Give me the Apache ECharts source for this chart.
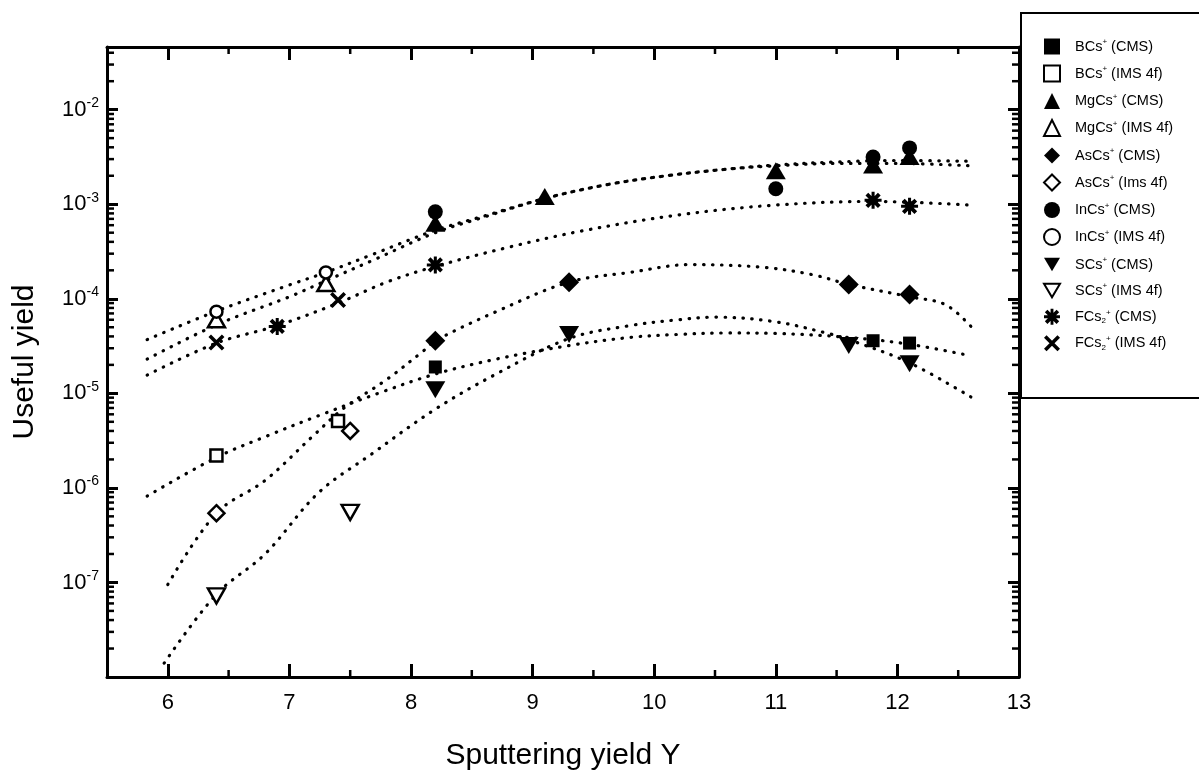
<!DOCTYPE html>
<html>
<head>
<meta charset="utf-8">
<script src="https://cdn.jsdelivr.net/npm/echarts@6/dist/echarts.min.js"></script>
<style>
    html, body { margin: 0; padding: 0; background: #fff; }
    #chart { width: 1199px; height: 776px; }
</style>
</head>
<body>
<div id="chart"></div>
<script>
// 测量点 (x = sputtering yield Y, y = useful yield)
var bcsCmsX = [8.2, 11.8, 12.1];
var bcsCmsY = [1.9e-5, 3.6e-5, 3.4e-5];
var bcsImsX = [6.4, 7.4];
var bcsImsY = [2.2e-6, 5.1e-6];
var mgcsCmsX = [8.2, 9.1, 11.0, 11.8, 12.1];
var mgcsCmsY = [6.3e-4, 1.21e-3, 2.26e-3, 2.6e-3, 3.2e-3];
var mgcsImsX = [6.4, 7.3];
var mgcsImsY = [6.0e-5, 1.45e-4];
var ascsCmsX = [8.2, 9.3, 11.6, 12.1];
var ascsCmsY = [3.6e-5, 1.5e-4, 1.42e-4, 1.11e-4];
var ascsImsX = [6.4, 7.5];
var ascsImsY = [5.4e-7, 4.0e-6];
var incsCmsX = [8.2, 11.0, 11.8, 12.1];
var incsCmsY = [8.3e-4, 1.46e-3, 3.15e-3, 3.94e-3];
var incsImsX = [6.4, 7.3];
var incsImsY = [7.3e-5, 1.9e-4];
var scsCmsX = [8.2, 9.3, 11.6, 12.1];
var scsCmsY = [1.09e-5, 4.2e-5, 3.2e-5, 2.06e-5];
var scsImsX = [6.4, 7.5];
var scsImsY = [7.2e-8, 5.5e-7];
var fcsCmsX = [6.9, 8.2, 11.8, 12.1];
var fcsCmsY = [5.1e-5, 2.28e-4, 1.1e-3, 9.5e-4];
var fcsImsX = [6.4, 7.4];
var fcsImsY = [3.45e-5, 9.7e-5];

// 拟合曲线（点线）
var fitInX = [5.83, 6.4, 7.0, 7.3, 7.7, 8.2, 8.6, 9.1, 9.6, 10.1, 10.6, 11.0, 11.5, 12.0, 12.6];
var fitInY = [3.7e-5, 7.4e-5, 1.4e-4, 1.9e-4, 3.0e-4, 5.3e-4, 7.5e-4, 1.15e-3, 1.6e-3, 2.0e-3, 2.35e-3, 2.6e-3, 2.8e-3, 2.9e-3, 2.85e-3];
var fitMgX = [5.83, 6.4, 7.0, 7.3, 7.7, 8.2, 8.6, 9.1, 9.6, 10.1, 10.6, 11.0, 11.5, 12.0, 12.6];
var fitMgY = [2.3e-5, 5.3e-5, 1.05e-4, 1.55e-4, 2.6e-4, 5.0e-4, 7.3e-4, 1.15e-3, 1.6e-3, 2.0e-3, 2.35e-3, 2.55e-3, 2.7e-3, 2.7e-3, 2.55e-3];
var fitFX = [5.83, 6.4, 6.9, 7.4, 7.8, 8.2, 8.8, 9.4, 10.2, 11.0, 11.8, 12.6];
var fitFY = [1.56e-5, 3.4e-5, 5.2e-5, 9.0e-5, 1.5e-4, 2.2e-4, 3.5e-4, 5.2e-4, 7.7e-4, 9.8e-4, 1.07e-3, 9.8e-4];
var fitAsX = [6.0, 6.4, 6.8, 7.2, 7.45, 7.8, 8.1, 8.2, 8.7, 9.3, 9.8, 10.3, 10.9, 11.3, 11.6, 12.1, 12.4, 12.63];
var fitAsY = [9.5e-8, 5.4e-7, 1.2e-6, 3.6e-6, 7e-6, 1.4e-5, 2.8e-5, 3.6e-5, 7.3e-5, 1.5e-4, 1.9e-4, 2.3e-4, 2.15e-4, 1.8e-4, 1.42e-4, 1.05e-4, 8.6e-5, 4.7e-5];
var fitBX = [5.83, 6.4, 6.83, 7.24, 7.73, 8.2, 8.7, 9.3, 9.8, 10.2, 10.6, 11.0, 11.6, 12.1, 12.6];
var fitBY = [8.2e-7, 2.1e-6, 3.6e-6, 5.8e-6, 1.0e-5, 1.6e-5, 2.3e-5, 3.2e-5, 3.9e-5, 4.2e-5, 4.35e-5, 4.3e-5, 3.9e-5, 3.3e-5, 2.5e-5];
var fitSX = [5.97, 6.4, 6.8, 7.24, 7.68, 8.2, 8.7, 9.3, 9.8, 10.2, 10.5, 11.0, 11.43, 11.6, 12.1, 12.62];
var fitSY = [1.4e-8, 7.5e-8, 2.0e-7, 8.9e-7, 2.3e-6, 6.8e-6, 1.6e-5, 3.8e-5, 5.2e-5, 6.0e-5, 6.4e-5, 5.7e-5, 4.3e-5, 3.7e-5, 2.1e-5, 8.9e-6];

var X_MIN = 5.5, X_MAX = 13;
var Y_MIN = 1e-8, Y_MAX = 0.046;
var FONT = '"Liberation Sans", Arial, sans-serif';

// 星号和叉号的形状
var PATH_X = 'path://M-3.4,-5L5,3.4L3.4,5L-5,-3.4Z M3.4,-5L5,-3.4L-3.4,5L-5,3.4Z';
var PATH_STAR = 'path://M-3.2,-5L5,3.2L3.2,5L-5,-3.2Z M3.2,-5L5,-3.2L-3.2,5L-5,3.2Z ' +
    'M-1,-5.6L1,-5.6L1,5.6L-1,5.6Z M-5.6,-1L5.6,-1L5.6,1L-5.6,1Z';
// 图例里用的倒三角（图例不跟随symbolRotate）
var PATH_DOWN = 'path://M0,0L20,0L10,17Z';

function Zip(aX, aY) {
    var aOut = [];
    for (var i = 0; i < aX.length; i++) {
        aOut.push([aX[i], aY[i]]);
    }
    return aOut
}

function PointSeries(sName, aX, aY, sSymbol, size, bOpen, iRotate) {
    return {
        name: sName,
        type: 'scatter',
        data: Zip(aX, aY),
        symbol: sSymbol,
        symbolSize: size,
        symbolRotate: iRotate || 0,
        itemStyle: bOpen ? {color: '#fff', borderColor: '#000', borderWidth: 2.5, opacity: 1}
                         : {color: '#000', borderWidth: 0, opacity: 1},
        emphasis: {disabled: true},
        z: 5
    }
}

function FitSeries(aX, aY) {
    return {
        type: 'line',
        data: Zip(aX, aY),
        showSymbol: false,
        symbol: 'none',
        smooth: 0.35,
        silent: true,
        lineStyle: {color: '#000', width: 3.2, type: [0.5, 8.5], cap: 'round', opacity: 1},
        z: 2
    }
}

// 对数轴的次刻度（2..9 x 10^n）以及x轴的半格刻度
function MinorTicks(params, api) {
    var aKids = [];
    function seg(x1, y1, x2, y2) {
        aKids.push({type: 'line', shape: {x1: x1, y1: y1, x2: x2, y2: y2},
            style: {stroke: '#000', lineWidth: 2.5}});
    }
    for (var e = -8; e <= -2; e++) {
        for (var m = 2; m <= 9; m++) {
            var v = m * Math.pow(10, e);
            if (v <= Y_MIN || v >= Y_MAX) continue;
            var pL = api.coord([X_MIN, v]);
            var pR = api.coord([X_MAX, v]);
            seg(pL[0], pL[1], pL[0] + 7, pL[1]);
            seg(pR[0], pR[1], pR[0] - 7, pR[1]);
        }
    }
    for (var x = 6.5; x < X_MAX; x += 1) {
        var pB = api.coord([x, Y_MIN]);
        var pT = api.coord([x, Y_MAX]);
        seg(pB[0], pB[1], pB[0], pB[1] - 7);
        seg(pT[0], pT[1], pT[0], pT[1] + 7);
    }
    return {type: 'group', children: aKids};
}

function LegendText(sName) {
    return sName.replace('2+', '{sub|2}{sup|+}').replace('s+', 's{sup|+}');
}

var aPoints = [
    PointSeries('BCs+ (CMS)', bcsCmsX, bcsCmsY, 'rect', 13, false),
    PointSeries('BCs+ (IMS 4f)', bcsImsX, bcsImsY, 'rect', 12, true),
    PointSeries('MgCs+ (CMS)', mgcsCmsX, mgcsCmsY, 'triangle', [20, 17], false),
    PointSeries('MgCs+ (IMS 4f)', mgcsImsX, mgcsImsY, 'triangle', [17, 15], true),
    PointSeries('AsCs+ (CMS)', ascsCmsX, ascsCmsY, 'diamond', 20, false),
    PointSeries('AsCs+ (Ims 4f)', ascsImsX, ascsImsY, 'diamond', 16, true),
    PointSeries('InCs+ (CMS)', incsCmsX, incsCmsY, 'circle', 15, false),
    PointSeries('InCs+ (IMS 4f)', incsImsX, incsImsY, 'circle', 12, true),
    PointSeries('SCs+ (CMS)', scsCmsX, scsCmsY, 'triangle', [20, 17], false, 180),
    PointSeries('SCs+ (IMS 4f)', scsImsX, scsImsY, 'triangle', [17, 15], true, 180),
    PointSeries('FCs2+ (CMS)', fcsCmsX, fcsCmsY, PATH_STAR, 17, false),
    PointSeries('FCs2+ (IMS 4f)', fcsImsX, fcsImsY, PATH_X, 16, false)
];
var aLegendData = aPoints.map(function (s) {
    if (s.symbolRotate === 180) {
        return {name: s.name, icon: PATH_DOWN};
    }
    return {name: s.name};
});

var aSeries = [
    FitSeries(fitInX, fitInY),
    FitSeries(fitMgX, fitMgY),
    FitSeries(fitFX, fitFY),
    FitSeries(fitAsX, fitAsY),
    FitSeries(fitBX, fitBY),
    FitSeries(fitSX, fitSY),
    {
        type: 'custom',
        renderItem: MinorTicks,
        data: [[8, 1e-5]],
        silent: true,
        clip: false,
        z: 1
    }
].concat(aPoints);

var oAxisCommon = {
    axisLine: {show: true, onZero: false, lineStyle: {color: '#000', width: 3}},
    splitLine: {show: false},
    minorTick: {show: false}
};

var jOption = {
    animation: false,
    backgroundColor: '#fff',
    textStyle: {fontFamily: FONT},
    grid: {left: 107, right: 180, top: 47, bottom: 86},
    graphic: [{
        type: 'rect',
        shape: {x: 1021, y: 13, width: 190, height: 385},
        style: {fill: 'none', stroke: '#000', lineWidth: 2},
        z: 10
    }],
    legend: {
        orient: 'vertical',
        left: 1038,
        top: 33,
        itemGap: 10,
        itemWidth: 16,
        itemHeight: 16,
        selectedMode: false,
        data: aLegendData,
        formatter: LegendText,
        textStyle: {
            fontSize: 14.5, color: '#000', fontFamily: FONT, padding: [0, 0, 0, 10],
            rich: {
                sup: {fontSize: 8, padding: [0, 0, 9, 0]},
                sub: {fontSize: 8, padding: [8, 0, 0, 0]}
            }
        }
    },
    xAxis: [
        Object.assign({}, oAxisCommon, {
            type: 'value', position: 'bottom', min: X_MIN, max: X_MAX, splitNumber: 7,
            name: 'Sputtering yield Y', nameLocation: 'middle', nameGap: 64,
            nameTextStyle: {fontSize: 30, color: '#000', fontFamily: FONT},
            axisTick: {show: true, inside: true, length: 13, lineStyle: {color: '#000', width: 3}},
            axisLabel: {
                color: '#000', fontSize: 22, fontFamily: FONT, margin: 15,
                showMinLabel: false,
                formatter: function (v) { return Math.abs(v - Math.round(v)) < 1e-6 ? String(Math.round(v)) : ''; }
            }
        }),
        Object.assign({}, oAxisCommon, {
            type: 'value', position: 'top', min: X_MIN, max: X_MAX, splitNumber: 7,
            axisTick: {show: true, inside: true, length: 13, lineStyle: {color: '#000', width: 3}},
            axisLabel: {show: false}
        })
    ],
    yAxis: [
        Object.assign({}, oAxisCommon, {
            type: 'log', logBase: 10, position: 'left', min: Y_MIN, max: Y_MAX,
            name: 'Useful yield', nameLocation: 'middle', nameGap: 67,
            nameTextStyle: {fontSize: 30, color: '#000', fontFamily: FONT},
            axisTick: {show: true, inside: true, length: 11, lineStyle: {color: '#000', width: 3}},
            axisLabel: {
                color: '#000', fontSize: 22, fontFamily: FONT, margin: 8,
                showMinLabel: false, showMaxLabel: false,
                formatter: function (v) {
                    var e = Math.round(Math.log(v) / Math.LN10);
                    return '10{sup|' + e + '}';
                },
                rich: {sup: {fontSize: 14, padding: [0, 0, 13, 0], color: '#000'}}
            }
        }),
        Object.assign({}, oAxisCommon, {
            type: 'log', logBase: 10, position: 'right', min: Y_MIN, max: Y_MAX,
            axisTick: {show: true, inside: true, length: 11, lineStyle: {color: '#000', width: 3}},
            axisLabel: {show: false}
        })
    ],
    series: aSeries
};

var myChart = echarts.init(document.getElementById('chart'));
myChart.setOption(jOption);
</script>
</body>
</html>
